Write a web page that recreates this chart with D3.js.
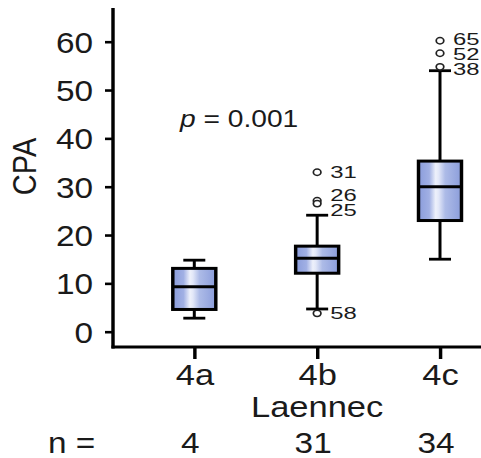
<!DOCTYPE html>
<html>
<head>
<meta charset="utf-8">
<script src="https://cdn.jsdelivr.net/npm/d3@7"></script>
<style>
  html, body { margin: 0; padding: 0; background: #fff; }
  svg { display: block; }
</style>
</head>
<body>
<svg id="chart"></svg>
<script>
// data
const groups = ["4a", "4b", "4c"];
const nCounts = [4, 31, 34];
const whiskerLow = [2.8, 4.7, 15.0];
const q1 = [4.6, 12.1, 23.0];
const median = [9.3, 15.2, 30.0];
const q3 = [13.1, 17.7, 35.3];
const whiskerHigh = [14.8, 24.1, 54.0];
const outlierGroup = ["4b", "4b", "4b", "4b", "4c", "4c", "4c"];
const outlierValue = [33.0, 27.1, 26.5, 3.8, 60.2, 57.6, 54.8];
const outlierId = ["31", "26", "25", "58", "65", "52", "38"];
const yTicks = [0, 10, 20, 30, 40, 50, 60];

// the picture is stretched sideways, so draw in a narrower space and stretch it
const SX = 1.15;
const pw = 481, ph = 458;
const W = pw / SX;
const px = v => v / SX;   // pixel x -> drawing x

const font = "'Liberation Sans', Arial, sans-serif";
const ink = "#1a1a1a";

const svg = d3.select("#chart")
    .attr("width", pw)
    .attr("height", ph)
    .attr("viewBox", [0, 0, W, ph])
    .attr("preserveAspectRatio", "none");

const x = d3.scalePoint().domain(groups).range([px(194.3), px(440)]);
const y = d3.scaleLinear().domain([0, 60]).range([331.7, 41.7]);

const axisX = px(113), axisY = 347;

// gradient fill of the boxes
const grad = svg.append("defs").append("linearGradient")
    .attr("id", "boxfill")
    .attr("x1", 0).attr("x2", 1).attr("y1", 0).attr("y2", 0);
[[0, "#8a9cdb"], [0.25, "#a1b0e4"], [0.4, "#eef1fb"], [0.47, "#e2e7f8"], [0.62, "#adbbe7"], [1, "#8b9ddb"]]
    .forEach(([o, c]) => grad.append("stop").attr("offset", o).attr("stop-color", c));

// axes
const yAxis = svg.append("g")
    .attr("transform", `translate(${axisX},0)`)
    .call(d3.axisLeft(y).tickValues(yTicks).tickSize(px(8)).tickPadding(px(12)).tickSizeOuter(0));
yAxis.select(".domain").remove();
yAxis.selectAll("line").attr("stroke", "#000").attr("stroke-width", 2.6);
yAxis.selectAll("text")
    .attr("font-family", font).attr("font-size", 29).attr("fill", ink)
    .attr("dy", "0.36em");

const xAxis = svg.append("g")
    .attr("transform", `translate(0,${axisY})`)
    .call(d3.axisBottom(x).tickSize(12).tickPadding(5).tickSizeOuter(0));
xAxis.select(".domain").remove();
xAxis.selectAll("line").attr("stroke", "#000").attr("stroke-width", 3);
xAxis.selectAll("text")
    .attr("font-family", font).attr("font-size", 30).attr("fill", ink);

svg.append("line")
    .attr("x1", axisX).attr("x2", axisX)
    .attr("y1", 8).attr("y2", axisY + 1.5)
    .attr("stroke", "#000").attr("stroke-width", 3);
svg.append("line")
    .attr("x1", axisX - 1.3).attr("x2", W)
    .attr("y1", axisY).attr("y2", axisY)
    .attr("stroke", "#000").attr("stroke-width", 3);

// boxes
const boxW = px(43), capW = px(22);
const boxes = svg.append("g").selectAll("g")
    .data(groups.map((g, i) => ({g, lo: whiskerLow[i], q1: q1[i], med: median[i], q3: q3[i], hi: whiskerHigh[i]})))
    .join("g")
    .attr("transform", d => `translate(${x(d.g)},0)`);

boxes.append("line")
    .attr("y1", d => y(d.hi)).attr("y2", d => y(d.q3))
    .attr("stroke", "#000").attr("stroke-width", 2.6);
boxes.append("line")
    .attr("y1", d => y(d.q1)).attr("y2", d => y(d.lo))
    .attr("stroke", "#000").attr("stroke-width", 2.6);
boxes.selectAll(".cap")
    .data(d => [d.hi, d.lo])
    .join("line")
    .attr("class", "cap")
    .attr("x1", -capW / 2).attr("x2", capW / 2)
    .attr("y1", v => y(v)).attr("y2", v => y(v))
    .attr("stroke", "#000").attr("stroke-width", 2.8);
boxes.append("rect")
    .attr("x", -boxW / 2).attr("width", boxW)
    .attr("y", d => y(d.q3)).attr("height", d => y(d.q1) - y(d.q3))
    .attr("fill", "url(#boxfill)")
    .attr("stroke", "#000").attr("stroke-width", 3);
boxes.append("line")
    .attr("x1", -boxW / 2).attr("x2", boxW / 2)
    .attr("y1", d => y(d.med)).attr("y2", d => y(d.med))
    .attr("stroke", "#000").attr("stroke-width", 3);

// outliers
const outliers = outlierValue.map((v, i) => ({g: outlierGroup[i], v, id: outlierId[i]}));
svg.append("g").selectAll("ellipse")
    .data(outliers)
    .join("ellipse")
    .attr("cx", d => x(d.g))
    .attr("cy", d => y(d.v))
    .attr("rx", px(3.3 * SX)).attr("ry", 3.2)
    .attr("fill", "#fff")
    .attr("stroke", "#222").attr("stroke-width", 1.5);

// simple repel of the outlier labels within a group
const minGap = 15;
groups.forEach(g => {
  const ls = outliers.filter(d => d.g === g).sort((a, b) => y(a.v) - y(b.v));
  ls.forEach(d => d.ly = y(d.v));
  for (let k = 0; k < 60; k++) {
    for (let i = 1; i < ls.length; i++) {
      const gap = ls[i].ly - ls[i - 1].ly;
      if (gap < minGap && Math.abs(y(ls[i].v) - y(ls[i - 1].v)) < 2 * minGap) {
        const push = (minGap - gap) / 2;
        ls[i - 1].ly -= push;
        ls[i].ly += push;
      }
    }
  }
});

svg.append("g").selectAll("text")
    .data(outliers)
    .join("text")
    .attr("transform", d => `translate(${x(d.g) + px(13)},${d.ly}) scale(1.22,1)`)
    .attr("dy", "0.36em")
    .attr("font-family", font).attr("font-size", 17).attr("fill", ink)
    .text(d => d.id);

// titles and annotations
svg.append("text")
    .attr("transform", `translate(${px(36)},166.5) rotate(-90)`)
    .attr("text-anchor", "middle")
    .attr("font-family", font).attr("font-size", 29).attr("fill", ink)
    .text("CPA");

svg.append("text")
    .attr("x", x("4b")).attr("y", 416.7)
    .attr("text-anchor", "middle")
    .attr("font-family", font).attr("font-size", 30).attr("fill", ink)
    .text("Laennec");

svg.append("text")
    .attr("x", px(48)).attr("y", 453)
    .attr("font-family", font).attr("font-size", 29).attr("fill", ink)
    .text("n =");

svg.append("g").selectAll("text")
    .data(groups.map((g, i) => ({g, n: nCounts[i]})))
    .join("text")
    .attr("x", d => x(d.g) - px(4))
    .attr("y", 453)
    .attr("text-anchor", "middle")
    .attr("font-family", font).attr("font-size", 29).attr("fill", ink)
    .text(d => d.n);

const pText = svg.append("text")
    .attr("x", px(180)).attr("y", 127)
    .attr("font-family", font).attr("font-size", 24.5).attr("fill", ink);
pText.append("tspan").attr("font-style", "italic").text("p");
pText.append("tspan").text(" = 0.001");
</script>
</body>
</html>
